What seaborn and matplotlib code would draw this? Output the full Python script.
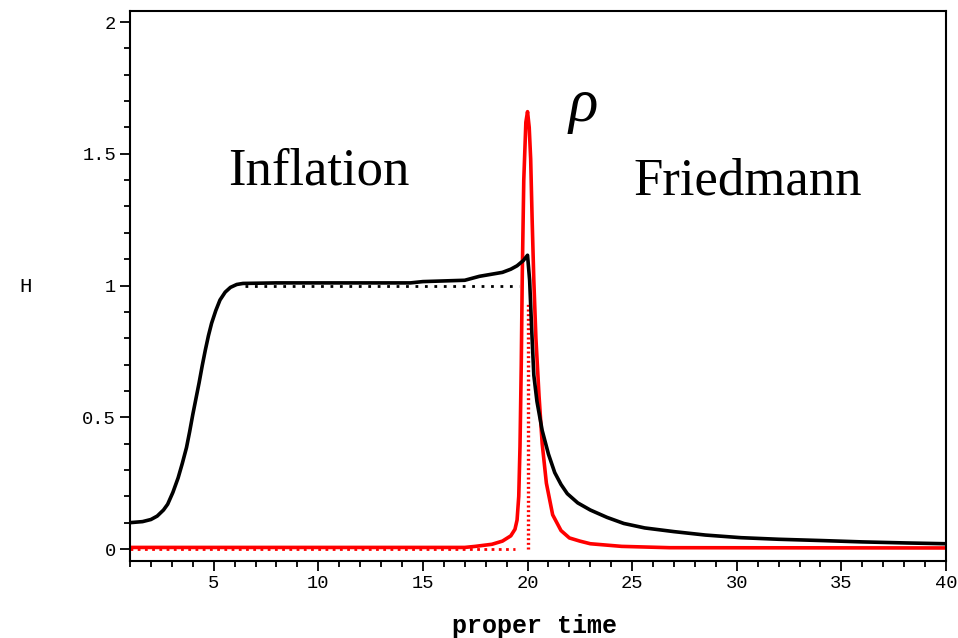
import numpy as np
import pandas as pd
import matplotlib
matplotlib.use("Agg")
import matplotlib.pyplot as plt
from matplotlib.ticker import MultipleLocator
import seaborn as sns

# ---- data ----
t_H = [1, 1.6, 2.0, 2.3, 2.6, 2.8, 3.05, 3.3, 3.5, 3.7, 3.85, 4.0, 4.15, 4.3, 4.45,
       4.6, 4.75, 4.9, 5.1, 5.3, 5.55, 5.8, 6.1, 6.4, 8, 14.4, 15, 17,
       17.7, 18.8, 19.2, 19.5, 19.8, 20.0, 20.1, 20.2, 20.3, 20.45, 20.7, 21.0, 21.3,
       21.6, 21.9, 22.4, 23.0, 23.8, 24.6, 25.6, 27.0, 28.5, 30.2, 32.0, 34.1, 36.0,
       38.1, 40]
H_vals = [0.1, 0.104, 0.112, 0.125, 0.148, 0.17, 0.215, 0.27, 0.325, 0.385, 0.445,
          0.51, 0.57, 0.63, 0.695, 0.755, 0.81, 0.857, 0.905, 0.945, 0.975, 0.993,
          1.004, 1.008, 1.01, 1.01, 1.015, 1.02, 1.035, 1.05, 1.062, 1.075, 1.095,
          1.115, 1.02, 0.83, 0.66, 0.56, 0.45, 0.36, 0.29, 0.245, 0.21, 0.175, 0.148,
          0.12, 0.097, 0.08, 0.066, 0.053, 0.043, 0.037, 0.032, 0.027, 0.023, 0.02]

t_rho = [1, 17, 17.5, 18.3, 18.8, 19.2, 19.4, 19.5, 19.58, 19.64, 19.7, 19.75, 19.82,
         19.92, 20.0, 20.08, 20.15, 20.22, 20.3, 20.4, 20.55, 20.7, 20.9, 21.2, 21.6,
         22.0, 22.5, 23.0, 24.5, 26.8, 40]
rho_vals = [0.006, 0.006, 0.01, 0.018, 0.03, 0.05, 0.075, 0.11, 0.2, 0.39, 0.7, 1.05,
            1.4, 1.62, 1.66, 1.6, 1.48, 1.25, 1.02, 0.8, 0.58, 0.4, 0.25, 0.13, 0.07,
            0.042, 0.03, 0.02, 0.01, 0.005, 0.004]

t_H_approx = [6.5, 19.6]
H_approx = [1.0, 1.0]

t_rho_approx_h = [1, 19.4]
rho_approx_h = [0.0, 0.0]
t_rho_approx_v = [20.0, 20.0]
rho_approx_v = [0.0, 0.93]

x_ticks = [5, 10, 15, 20, 25, 30, 35, 40]
y_ticks = [0, 0.5, 1, 1.5, 2]
y_tick_labels = ["0", "0.5", "1", "1.5", "2"]

# ---- figure ----
sns.set_style("white")
fig = plt.figure(figsize=(9.58, 6.38), dpi=100)
ax = fig.add_axes([130 / 958, 1 - 561 / 638, (946 - 130) / 958, (561 - 11) / 638])

df_rho = pd.DataFrame({"t": t_rho, "v": rho_vals})
df_H = pd.DataFrame({"t": t_H, "v": H_vals})
df_Ha = pd.DataFrame({"t": t_H_approx, "v": H_approx})
df_rh = pd.DataFrame({"t": t_rho_approx_h, "v": rho_approx_h})
df_rv = pd.DataFrame({"t": t_rho_approx_v, "v": rho_approx_v})

sns.lineplot(data=df_rho, x="t", y="v", ax=ax, color="#ff0000", lw=2.6,
             sort=False, estimator=None)
sns.lineplot(data=df_rh, x="t", y="v", ax=ax, color="#ff0000", lw=2.0,
             linestyle=(0, (1, 1.6)), sort=False, estimator=None)
sns.lineplot(data=df_rv, x="t", y="v", ax=ax, color="#ff0000", lw=2.4,
             linestyle=(0, (0.6, 0.8)), sort=False, estimator=None)
sns.lineplot(data=df_Ha, x="t", y="v", ax=ax, color="black", lw=2.0,
             linestyle=(0, (1, 2.4)), sort=False, estimator=None)
sns.lineplot(data=df_H, x="t", y="v", ax=ax, color="black", lw=2.6,
             sort=False, estimator=None)

ax.set_xlim(1, 40)
ax.set_ylim(-0.0455, 2.042)

mono = "Liberation Mono"
ax.set_xticks(x_ticks)
ax.set_xticklabels([str(v) for v in x_ticks], fontfamily=mono, fontsize=13.5,
                   color="black")
ax.set_yticks(y_ticks)
ax.set_yticklabels(y_tick_labels, fontfamily=mono, fontsize=13.5, color="black")
ax.xaxis.set_minor_locator(MultipleLocator(1))
ax.yaxis.set_minor_locator(MultipleLocator(0.1))
ax.tick_params(axis="both", which="major", direction="out", length=7, width=1.3,
               color="black", pad=3, bottom=True, left=True)
ax.tick_params(axis="both", which="minor", direction="out", length=4, width=1.3,
               color="black", bottom=True, left=True)
for s in ax.spines.values():
    s.set_visible(True)
    s.set_color("black")
    s.set_linewidth(1.5)

ax.set_xlabel("")
ax.set_ylabel("")
fig.text(534 / 958, 1 - 626 / 638, "proper time", fontfamily=mono, fontsize=18,
         fontweight="bold", ha="center", va="center", color="black")
fig.text(26 / 958, 1 - 286 / 638, "H", fontfamily=mono, fontsize=15,
         ha="center", va="center", color="black")

serif = "Liberation Serif"
ax.text(0.232, 0.709, "Inflation", transform=ax.transAxes, fontfamily=serif,
        fontsize=38, ha="center", va="center", color="black")
ax.text(0.757, 0.690, "Friedmann", transform=ax.transAxes, fontfamily=serif,
        fontsize=38, ha="center", va="center", color="black")
ax.text(0.556, 0.827, "ρ", transform=ax.transAxes, fontfamily=serif,
        fontstyle="italic", fontsize=44, ha="center", va="center", color="black")

fig.savefig("out.png", dpi=100, facecolor="white")
